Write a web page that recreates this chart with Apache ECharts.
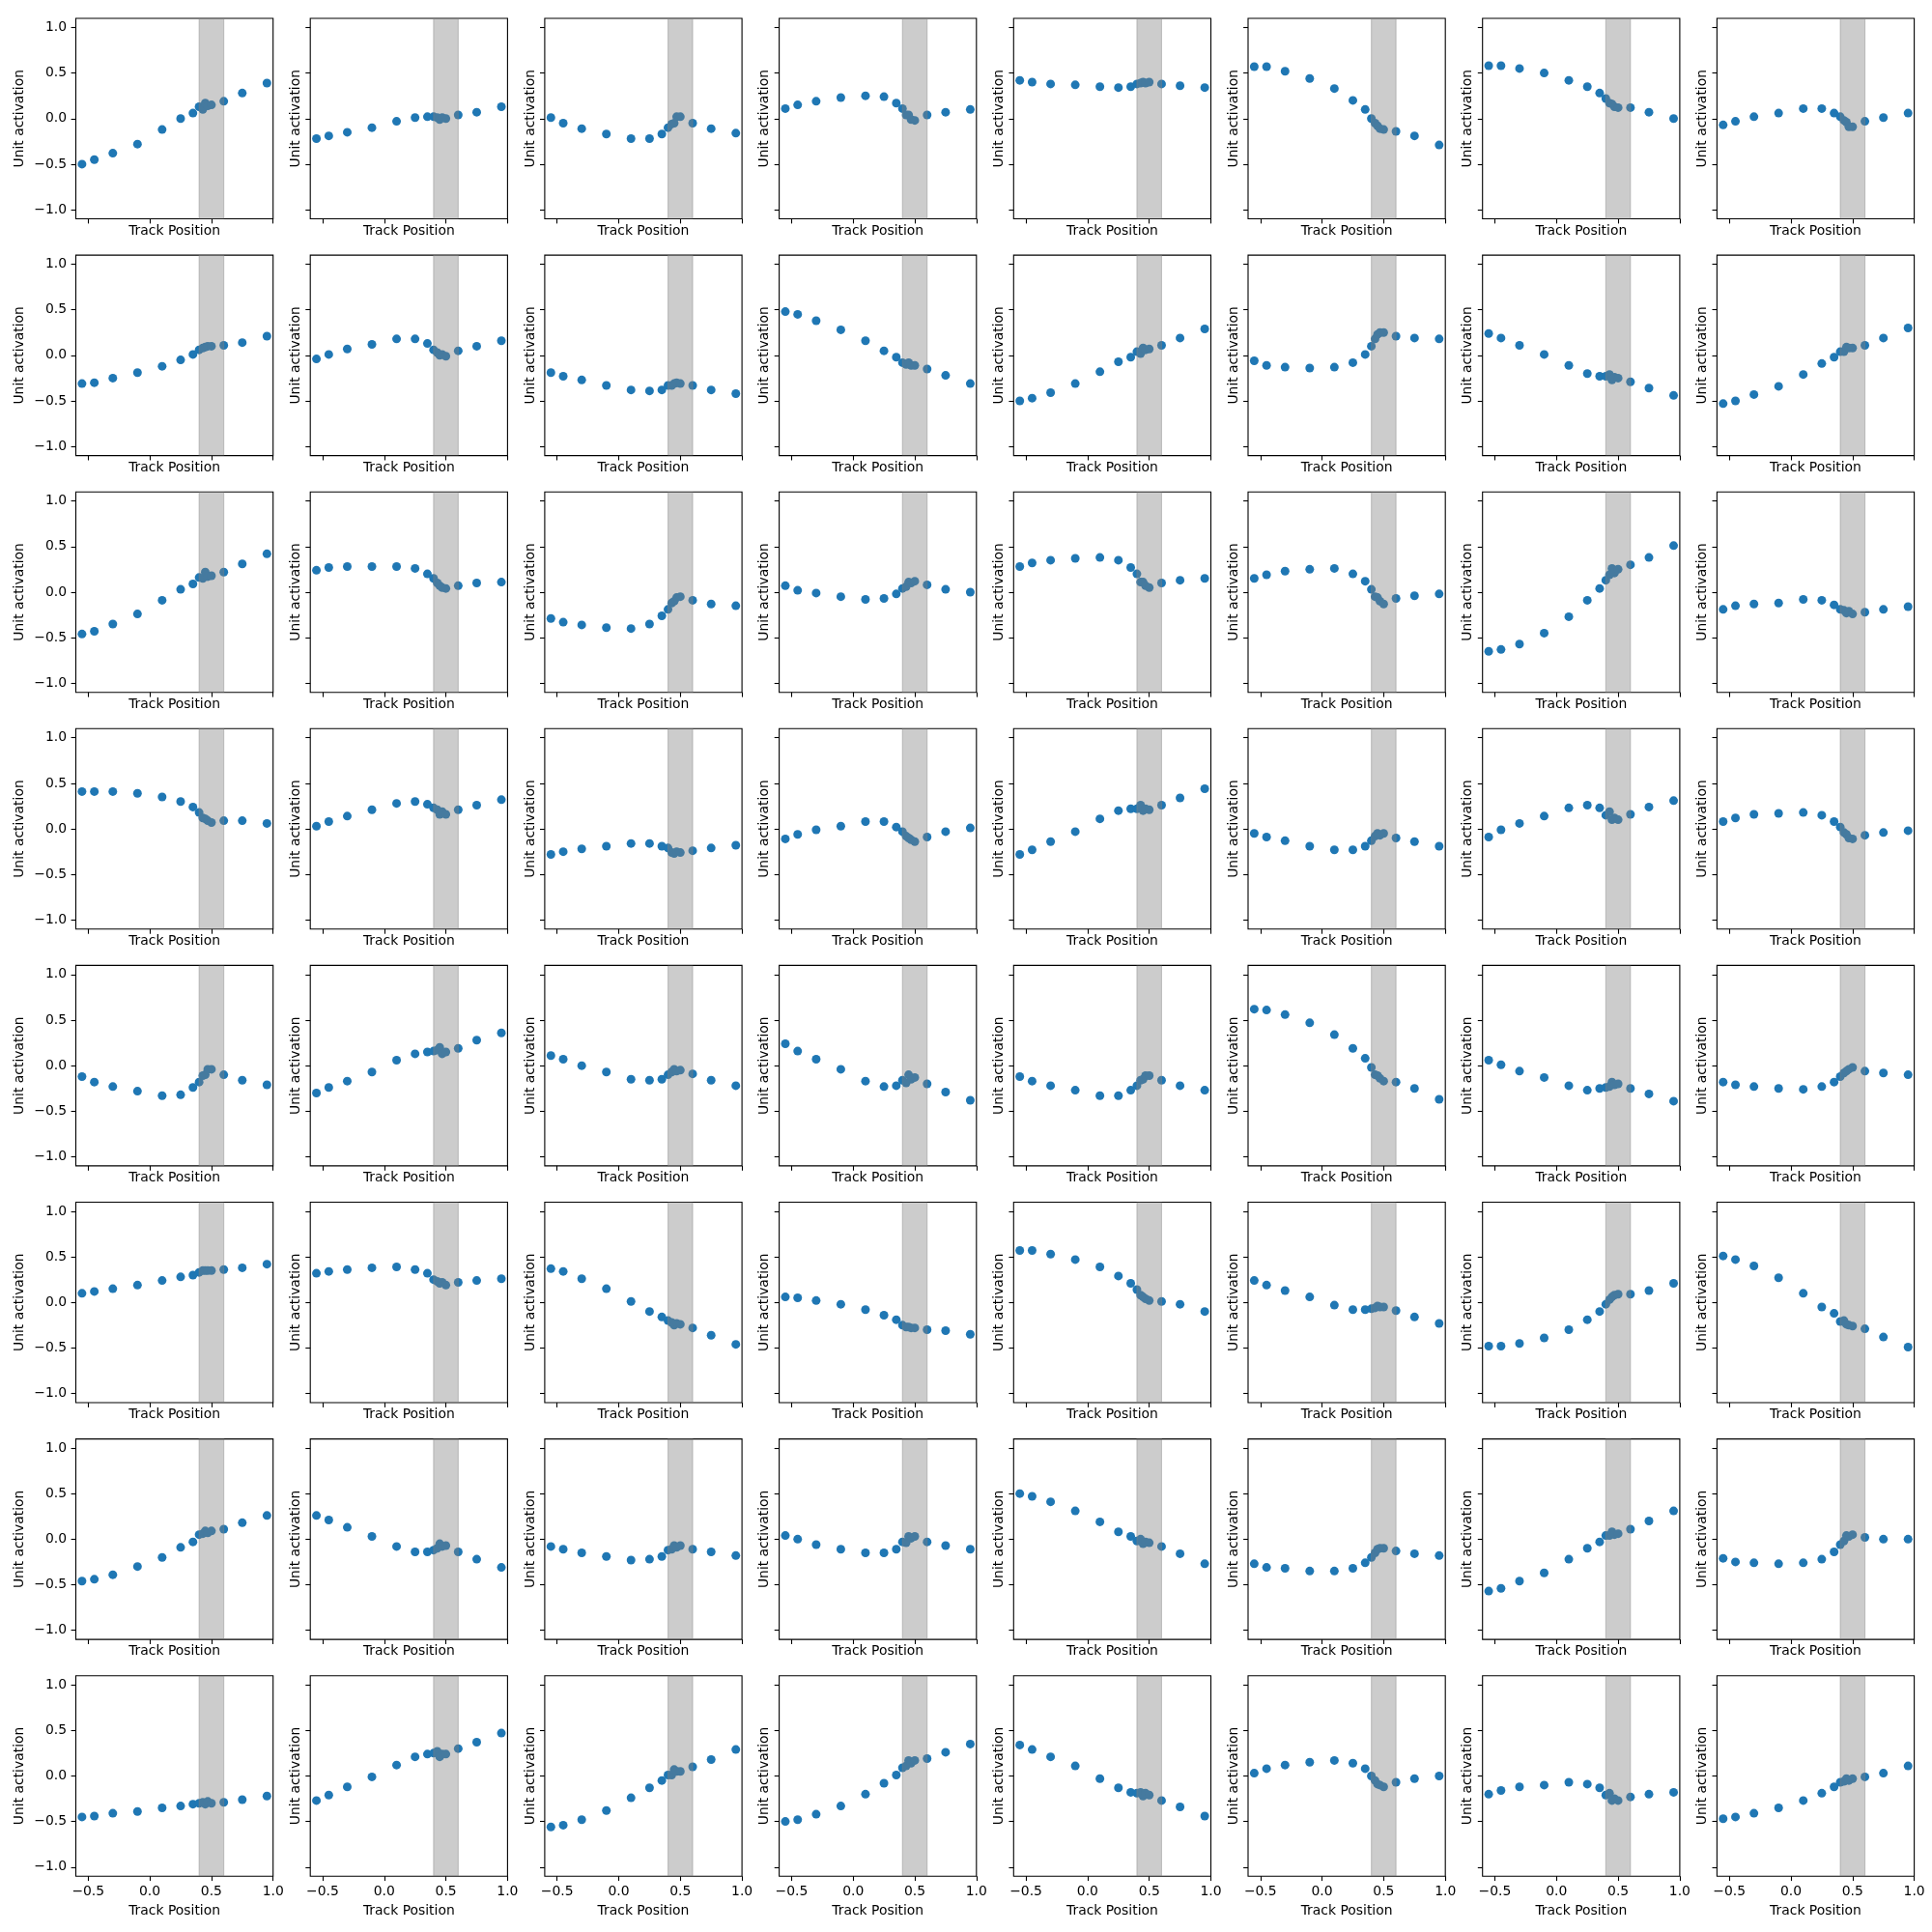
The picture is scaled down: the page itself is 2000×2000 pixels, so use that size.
<!DOCTYPE html>
<html>
<head>
<meta charset="utf-8">
<script src="https://cdn.jsdelivr.net/npm/echarts@6/dist/echarts.min.js"></script>
<style>html,body{margin:0;padding:0;background:#fff}#c{width:2000px;height:2000px}</style>
</head>
<body>
<div id="c"></div>
<script>
// Track positions (shared x values for every panel)
const trackPositions = [-0.55,-0.45,-0.3,-0.1,0.1,0.25,0.35,0.4,0.43,0.45,0.47,0.5,0.6,0.75,0.95];
// Shaded region on the x axis
const bandRange = [0.4, 0.6];
const xTicks = [-0.5, 0.0, 0.5, 1.0];
const yTicks = [-1.0, -0.5, 0.0, 0.5, 1.0];
const xName = 'Track Position';
const yName = 'Unit activation';

// Unit activations, one array per grid row, 8 units per row
const row0Units = [
 [-0.50,-0.45,-0.38,-0.28,-0.12,0.00,0.06, 0.13,0.10,0.17,0.14,0.15, 0.19,0.28,0.39],
 [-0.22,-0.19,-0.15,-0.10,-0.03,0.01,0.02, 0.02,0.01,-0.01,0.01,0.00, 0.04,0.07,0.13],
 [0.01,-0.05,-0.11,-0.17,-0.22,-0.22,-0.17, -0.10,-0.06,-0.05,0.02,0.02, -0.05,-0.11,-0.16],
 [0.11,0.15,0.19,0.23,0.25,0.24,0.17, 0.11,0.04,0.04,-0.01,-0.02, 0.04,0.07,0.10],
 [0.42,0.40,0.38,0.37,0.35,0.34,0.35, 0.38,0.39,0.40,0.39,0.40, 0.38,0.36,0.34],
 [0.57,0.57,0.52,0.44,0.33,0.20,0.10, 0.00,-0.05,-0.08,-0.11,-0.12, -0.14,-0.19,-0.29],
 [0.58,0.58,0.55,0.50,0.42,0.35,0.28, 0.22,0.17,0.16,0.13,0.12, 0.12,0.07,0.00],
 [-0.07,-0.03,0.02,0.06,0.11,0.11,0.06, 0.02,-0.02,-0.04,-0.09,-0.09, -0.03,0.01,0.06]
];
const row1Units = [
 [-0.31,-0.30,-0.25,-0.19,-0.12,-0.05,0.01, 0.06,0.08,0.09,0.10,0.10, 0.11,0.14,0.21],
 [-0.04,0.01,0.07,0.12,0.18,0.18,0.13, 0.06,0.03,0.00,0.01,-0.01, 0.05,0.10,0.16],
 [-0.19,-0.23,-0.27,-0.33,-0.38,-0.39,-0.38, -0.33,-0.33,-0.31,-0.30,-0.31, -0.33,-0.38,-0.42],
 [0.48,0.45,0.38,0.28,0.16,0.05,-0.02, -0.08,-0.10,-0.08,-0.11,-0.11, -0.15,-0.22,-0.31],
 [-0.50,-0.47,-0.41,-0.31,-0.18,-0.07,-0.02, 0.04,0.02,0.08,0.06,0.07, 0.11,0.19,0.29],
 [-0.06,-0.11,-0.13,-0.14,-0.13,-0.08,0.01, 0.10,0.18,0.23,0.25,0.25, 0.21,0.19,0.18],
 [0.24,0.19,0.11,0.01,-0.11,-0.20,-0.23, -0.23,-0.21,-0.27,-0.24,-0.25, -0.29,-0.36,-0.44],
 [-0.53,-0.50,-0.43,-0.34,-0.21,-0.09,-0.02, 0.04,0.04,0.09,0.08,0.08, 0.11,0.19,0.30]
];
const row2Units = [
 [-0.46,-0.43,-0.35,-0.24,-0.09,0.03,0.09, 0.16,0.15,0.22,0.17,0.18, 0.22,0.31,0.42],
 [0.24,0.27,0.28,0.28,0.28,0.26,0.20, 0.15,0.10,0.07,0.05,0.04, 0.07,0.10,0.11],
 [-0.29,-0.33,-0.36,-0.39,-0.40,-0.35,-0.26, -0.19,-0.12,-0.10,-0.06,-0.05, -0.09,-0.13,-0.15],
 [0.07,0.02,-0.01,-0.05,-0.08,-0.07,-0.02, 0.04,0.06,0.11,0.10,0.12, 0.08,0.03,0.00],
 [0.28,0.32,0.35,0.37,0.38,0.35,0.27, 0.20,0.11,0.11,0.07,0.05, 0.10,0.13,0.15],
 [0.15,0.19,0.23,0.25,0.26,0.20,0.12, 0.03,-0.05,-0.06,-0.10,-0.13, -0.07,-0.04,-0.02],
 [-0.65,-0.63,-0.57,-0.45,-0.27,-0.09,0.04, 0.13,0.19,0.26,0.21,0.25, 0.30,0.38,0.51],
 [-0.19,-0.15,-0.13,-0.12,-0.08,-0.09,-0.14, -0.19,-0.20,-0.23,-0.21,-0.24, -0.22,-0.19,-0.16]
];
const row3Units = [
 [0.41,0.41,0.41,0.39,0.35,0.30,0.24, 0.18,0.12,0.11,0.09,0.07, 0.09,0.09,0.06],
 [0.03,0.08,0.14,0.21,0.28,0.30,0.27, 0.23,0.21,0.16,0.19,0.16, 0.21,0.26,0.32],
 [-0.28,-0.25,-0.22,-0.19,-0.16,-0.16,-0.19, -0.21,-0.26,-0.27,-0.25,-0.26, -0.24,-0.21,-0.18],
 [-0.11,-0.06,-0.01,0.03,0.08,0.08,0.02, -0.03,-0.08,-0.10,-0.12,-0.14, -0.09,-0.03,0.01],
 [-0.28,-0.23,-0.14,-0.03,0.11,0.20,0.22, 0.22,0.26,0.20,0.22,0.21, 0.26,0.34,0.44],
 [-0.05,-0.09,-0.13,-0.19,-0.23,-0.23,-0.19, -0.13,-0.08,-0.05,-0.07,-0.05, -0.10,-0.14,-0.19],
 [-0.09,-0.01,0.06,0.14,0.23,0.26,0.23, 0.15,0.19,0.10,0.12,0.10, 0.16,0.24,0.31],
 [0.08,0.12,0.16,0.17,0.18,0.15,0.08, 0.02,-0.04,-0.06,-0.10,-0.11, -0.07,-0.04,-0.02]
];
const row4Units = [
 [-0.12,-0.18,-0.23,-0.28,-0.33,-0.32,-0.24, -0.18,-0.11,-0.10,-0.04,-0.04, -0.10,-0.16,-0.21],
 [-0.30,-0.24,-0.17,-0.07,0.06,0.13,0.15, 0.16,0.17,0.20,0.13,0.15, 0.19,0.28,0.36],
 [0.11,0.07,0.00,-0.07,-0.15,-0.16,-0.15, -0.10,-0.07,-0.04,-0.06,-0.05, -0.09,-0.16,-0.22],
 [0.24,0.16,0.07,-0.04,-0.17,-0.23,-0.22, -0.16,-0.19,-0.10,-0.15,-0.13, -0.20,-0.29,-0.38],
 [-0.12,-0.17,-0.22,-0.27,-0.33,-0.33,-0.27, -0.22,-0.16,-0.15,-0.11,-0.11, -0.16,-0.22,-0.27],
 [0.62,0.61,0.56,0.47,0.34,0.19,0.08, -0.02,-0.10,-0.11,-0.14,-0.17, -0.18,-0.25,-0.37],
 [0.06,0.01,-0.06,-0.13,-0.22,-0.27,-0.25, -0.24,-0.23,-0.18,-0.21,-0.20, -0.25,-0.31,-0.39],
 [-0.18,-0.21,-0.23,-0.25,-0.26,-0.23,-0.18, -0.12,-0.08,-0.06,-0.04,-0.02, -0.06,-0.08,-0.10]
];
const row5Units = [
 [0.10,0.12,0.15,0.19,0.24,0.28,0.30, 0.33,0.35,0.35,0.35,0.35, 0.36,0.38,0.42],
 [0.32,0.34,0.36,0.38,0.39,0.36,0.32, 0.25,0.23,0.21,0.22,0.19, 0.22,0.24,0.26],
 [0.37,0.34,0.26,0.15,0.01,-0.10,-0.16, -0.20,-0.22,-0.25,-0.23,-0.24, -0.28,-0.36,-0.46],
 [0.06,0.05,0.02,-0.02,-0.08,-0.14,-0.19, -0.25,-0.27,-0.27,-0.28,-0.28, -0.30,-0.31,-0.35],
 [0.57,0.57,0.53,0.47,0.39,0.29,0.21, 0.14,0.08,0.06,0.04,0.02, 0.01,-0.02,-0.10],
 [0.24,0.19,0.13,0.06,-0.03,-0.08,-0.08, -0.07,-0.06,-0.04,-0.05,-0.05, -0.09,-0.16,-0.23],
 [-0.48,-0.48,-0.45,-0.39,-0.30,-0.19,-0.10, -0.02,0.03,0.06,0.08,0.09, 0.09,0.13,0.21],
 [0.51,0.47,0.40,0.27,0.10,-0.05,-0.12, -0.21,-0.20,-0.24,-0.25,-0.26, -0.29,-0.38,-0.49]
];
const row6Units = [
 [-0.46,-0.44,-0.39,-0.30,-0.20,-0.09,-0.03, 0.05,0.06,0.09,0.07,0.09, 0.11,0.18,0.26],
 [0.26,0.21,0.13,0.03,-0.08,-0.14,-0.14, -0.12,-0.10,-0.05,-0.08,-0.07, -0.14,-0.22,-0.31],
 [-0.08,-0.11,-0.15,-0.19,-0.23,-0.22,-0.19, -0.12,-0.11,-0.07,-0.09,-0.07, -0.11,-0.14,-0.18],
 [0.04,0.00,-0.06,-0.11,-0.15,-0.15,-0.11, -0.03,-0.04,0.03,0.01,0.03, -0.03,-0.07,-0.11],
 [0.50,0.47,0.41,0.31,0.19,0.08,0.03, -0.02,0.00,-0.05,-0.03,-0.04, -0.08,-0.16,-0.27],
 [-0.27,-0.31,-0.32,-0.35,-0.35,-0.32,-0.26, -0.20,-0.15,-0.11,-0.10,-0.10, -0.13,-0.16,-0.18],
 [-0.57,-0.54,-0.46,-0.37,-0.22,-0.10,-0.03, 0.04,0.04,0.08,0.05,0.06, 0.11,0.20,0.31],
 [-0.21,-0.25,-0.26,-0.27,-0.26,-0.22,-0.14, -0.06,-0.02,0.04,0.03,0.05, 0.02,0.00,0.00]
];
const row7Units = [
 [-0.45,-0.44,-0.41,-0.39,-0.35,-0.33,-0.31, -0.30,-0.29,-0.31,-0.28,-0.30, -0.29,-0.26,-0.22],
 [-0.27,-0.21,-0.12,-0.01,0.12,0.21,0.24, 0.25,0.27,0.21,0.24,0.24, 0.30,0.37,0.47],
 [-0.56,-0.54,-0.48,-0.38,-0.24,-0.13,-0.05, 0.01,0.01,0.07,0.05,0.05, 0.10,0.18,0.29],
 [-0.50,-0.48,-0.42,-0.33,-0.20,-0.08,0.01, 0.09,0.11,0.17,0.14,0.17, 0.19,0.26,0.35],
 [0.34,0.29,0.21,0.11,-0.03,-0.13,-0.18, -0.19,-0.18,-0.22,-0.19,-0.21, -0.27,-0.34,-0.44],
 [0.03,0.08,0.12,0.15,0.17,0.14,0.08, 0.00,-0.05,-0.09,-0.10,-0.12, -0.07,-0.03,0.00],
 [-0.20,-0.16,-0.12,-0.10,-0.07,-0.09,-0.13, -0.21,-0.19,-0.27,-0.25,-0.27, -0.23,-0.20,-0.18],
 [-0.47,-0.45,-0.41,-0.35,-0.27,-0.19,-0.12, -0.07,-0.06,-0.03,-0.05,-0.03, -0.01,0.03,0.11]
];
const allRows = [row0Units,row1Units,row2Units,row3Units,row4Units,row5Units,row6Units,row7Units];

// ---- layout / style ----
const FONT = 'DejaVu Sans';
const FS = 13.9;
const LEFT0 = 78.5, TOP0 = 19, DX = 242.7, DY = 245.1, W = 204.2, H = 207.5;
const fmt = v => (v < 0 ? '\u2212' : '') + Math.abs(v).toFixed(1);

const grid = [], xAxis = [], yAxis = [], series = [];
let idx = 0;
for (let r = 0; r < 8; r++) {
  for (let c = 0; c < 8; c++) {
    grid.push({left: LEFT0 + c*DX, top: TOP0 + r*DY, width: W, height: H,
      show: true, borderColor: '#000', borderWidth: 1.1, backgroundColor: 'transparent', containLabel: false});
    xAxis.push({
      gridIndex: idx, type: 'value', min: -0.6, max: 1.0, position: 'bottom',
      name: xName, nameLocation: 'middle', nameGap: r === 7 ? 29.5 : 5.5,
      nameTextStyle: {fontFamily: FONT, fontSize: FS, color: '#000', verticalAlign: 'top'},
      axisLine: {show: false, onZero: false},
      axisTick: {show: true, inside: false, length: 4.9, customValues: xTicks, lineStyle: {color: '#000', width: 1.1}},
      axisLabel: {show: r === 7, customValues: xTicks, formatter: fmt, margin: 9,
        fontFamily: FONT, fontSize: FS, color: '#000'},
      splitLine: {show: false}
    });
    yAxis.push({
      gridIndex: idx, type: 'value', min: -1.1, max: 1.1, position: 'left',
      name: yName, nameLocation: 'middle', nameGap: c === 0 ? 51 : 8,
      nameTextStyle: {fontFamily: FONT, fontSize: FS, color: '#000'},
      axisLine: {show: false, onZero: false},
      axisTick: {show: true, inside: false, length: 4.9, customValues: yTicks, lineStyle: {color: '#000', width: 1.1}},
      axisLabel: {show: c === 0, customValues: yTicks, formatter: fmt, margin: 9.5,
        fontFamily: FONT, fontSize: FS, color: '#000'},
      splitLine: {show: false}
    });
    const vals = allRows[r][c];
    series.push({
      type: 'scatter', xAxisIndex: idx, yAxisIndex: idx, z: 2,
      symbol: 'circle', symbolSize: 9,
      itemStyle: {color: '#1f77b4', opacity: 1},
      data: trackPositions.map((x, i) => [x, vals[i]]),
      silent: true
    });
    series.push({
      type: 'custom', xAxisIndex: idx, yAxisIndex: idx, z: 5, clip: true, silent: true,
      data: [[bandRange[0], bandRange[1]]],
      encode: {x: [0, 1]},
      renderItem: (params, api) => {
        const p0 = api.coord([api.value(0), 1.1]);
        const p1 = api.coord([api.value(1), -1.1]);
        return {type: 'rect',
          shape: {x: p0[0], y: p0[1], width: p1[0] - p0[0], height: p1[1] - p0[1]},
          style: {fill: 'rgba(128,128,128,0.4)', stroke: 'rgba(128,128,128,0.4)', lineWidth: 1.1}};
      }
    });
    idx++;
  }
}

const chart = echarts.init(document.getElementById('c'), null, {renderer: 'canvas', width: 2000, height: 2000});
chart.setOption({
  backgroundColor: '#fff',
  animation: false,
  grid, xAxis, yAxis, series
});
</script>
</body>
</html>
